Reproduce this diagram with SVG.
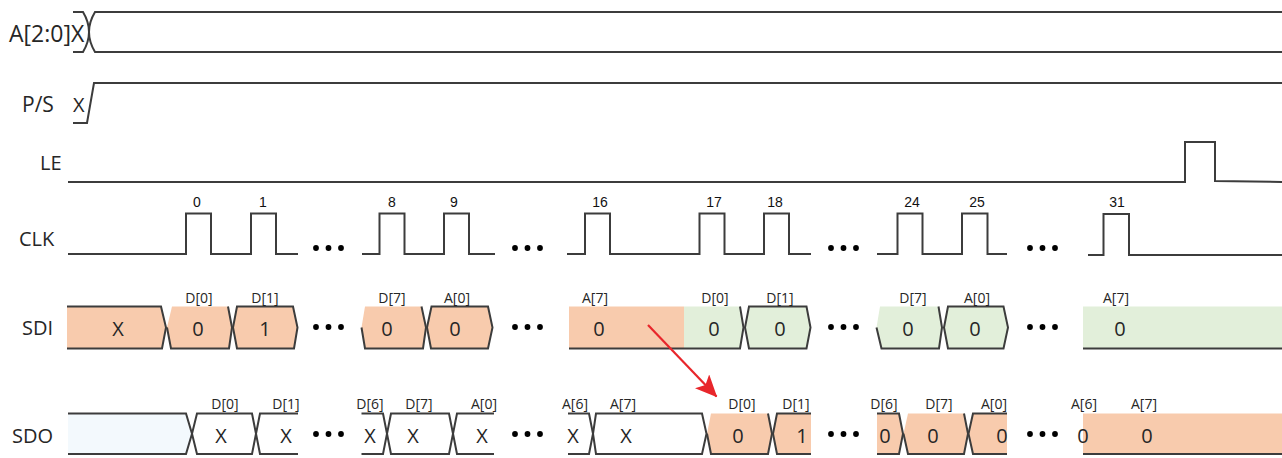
<svg xmlns="http://www.w3.org/2000/svg" width="1282" height="458" viewBox="0 0 1282 458">
  <style>
    .wave { fill: none; stroke: #3c3c3c; stroke-width: 2; stroke-linejoin: miter; }
    .sig { font-family: "Open Sans", "Liberation Sans", sans-serif; font-size: 20px; fill: #262626; }
    .val { font-family: "Open Sans", "Liberation Sans", sans-serif; font-size: 20px; fill: #262626; text-anchor: middle; }
    .bit { font-family: "Open Sans", "Liberation Sans", sans-serif; font-size: 14px; fill: #262626; text-anchor: middle; }
    .num { font-family: "Liberation Sans", Arial, sans-serif; font-size: 14px; fill: #111; text-anchor: middle; }
    .salmon { fill: #F8CBAD; stroke: none; }
    .green { fill: #E2EFDA; stroke: none; }
    .blue { fill: #F3F9FD; stroke: none; }
    .white { fill: #FFFFFF; stroke: none; }
    .dot { fill: #000; }
    .link { fill: none; stroke: #E8262B; stroke-width: 2.2; }
  </style>
  <defs>
    <marker id="arrowhead" viewBox="0 0 22 20" refX="21" refY="10" markerWidth="22" markerHeight="20" markerUnits="userSpaceOnUse" orient="auto">
      <path d="M0,0 L22,10 L0,20 L5,10 Z" fill="#E8262B"/>
    </marker>
    <g id="dots3">
      <circle class="dot" cx="0" cy="0" r="2.9"/>
      <circle class="dot" cx="12.5" cy="0" r="2.9"/>
      <circle class="dot" cx="25" cy="0" r="2.9"/>
    </g>
  </defs>

  <!-- A[2:0] bus -->
  <g id="sig-addr">
    <text class="sig" x="9" y="42" style="font-size:23px">A[2:0]X</text>
    <path class="wave" d="M73,12 H83 Q89,22 89,32 Q89,42 83,52 H73"/>
    <path class="wave" d="M1282,12 H95 Q89,22 89,32 Q89,42 95,52 H1282"/>
  </g>

  <!-- P/S -->
  <g id="sig-ps">
    <text class="sig" x="22" y="112" style="font-size:21px">P/S</text>
    <text class="sig" x="73" y="112">X</text>
    <path class="wave" d="M73,123 H87 L94,83 H1282"/>
  </g>

  <!-- LE -->
  <g id="sig-le">
    <text class="sig" x="40" y="170">LE</text>
    <path class="wave" d="M68,182 H1185 V142 H1215 V181 L1282,182"/>
  </g>

  <!-- CLK -->
  <g id="sig-clk">
    <text class="sig" x="19" y="246">CLK</text>
    <path class="wave" d="M68,254 H186 V213.5 H211 V254 H251 V213.5 H276 V254 H298"/>
    <path class="wave" d="M362,254 H379.5 V213.5 H404.5 V254 H444 V213.5 H469 V254 H495"/>
    <path class="wave" d="M567,254 H585 V213.5 H610 V254 H699.5 V213.5 H724.5 V254 H764 V213.5 H789 V254 H811"/>
    <path class="wave" d="M877,254 H897.5 V213.5 H922.5 V254 H962 V213.5 H987.5 V254 H1007"/>
    <path class="wave" d="M1088,255 H1103.5 V214 H1129 V255 H1282"/>
    <text class="num" x="197" y="206.5">0</text>
    <text class="num" x="263" y="206.5">1</text>
    <text class="num" x="392" y="206.5">8</text>
    <text class="num" x="454" y="206.5">9</text>
    <text class="num" x="600" y="206.5">16</text>
    <text class="num" x="714" y="206.5">17</text>
    <text class="num" x="775" y="206.5">18</text>
    <text class="num" x="912" y="206.5">24</text>
    <text class="num" x="977" y="206.5">25</text>
    <text class="num" x="1117" y="206.5">31</text>
    <use href="#dots3" x="316" y="248"/>
    <use href="#dots3" x="515" y="248"/>
    <use href="#dots3" x="831" y="248"/>
    <use href="#dots3" x="1030" y="248"/>
  </g>

  <!-- SDI -->
  <g id="sig-sdi">
    <text class="sig" x="22" y="335">SDI</text>
    <!-- fills -->
    <polygon class="salmon" points="67,306.5 161,306.5 166,327.5 162,348.5 67,348.5"/>
    <polygon class="salmon" points="172,306.5 228,306.5 232,327.5 229,348.5 171,348.5 167,327.5"/>
    <polygon class="salmon" points="237,306.5 293,306.5 297.5,327.5 294,348.5 237,348.5 233,327.5"/>
    <polygon class="salmon" points="365,306.5 421.5,306.5 426,327.5 423,348.5 365,348.5 361.5,327.5"/>
    <polygon class="salmon" points="431.5,306.5 488,306.5 492.5,327.5 488,348.5 431,348.5 427,327.5"/>
    <rect class="salmon" x="569" y="306.5" width="115" height="42"/>
    <polygon class="green" points="684,306.5 740,306.5 743.5,327.5 740,348.5 684,348.5"/>
    <polygon class="green" points="749,306.5 806.5,306.5 810.5,327.5 806.5,348.5 749,348.5 745,327.5"/>
    <polygon class="green" points="880,306.5 938.5,306.5 942,327.5 939,348.5 881.5,348.5 876.5,327.5"/>
    <polygon class="green" points="948,306.5 1003.5,306.5 1008,327.5 1003.5,348.5 948,348.5 944,327.5"/>
    <rect class="green" x="1083" y="306.5" width="199" height="42"/>
    <!-- outlines -->
    <path class="wave" d="M67,306.5 H161 L166,327.5 L162,348.5 H67"/>
    <path class="wave" d="M167,327.5 L171,348.5 H229 L232,327.5 L228,306.5"/>
    <path class="wave" d="M237,306.5 H293 L297.5,327.5 L294,348.5 H237 L233,327.5 Z"/>
    <path class="wave" d="M361.5,327.5 L365,348.5 H423 L426,327.5 L421.5,306.5"/>
    <path class="wave" d="M431.5,306.5 H488 L492.5,327.5 L488,348.5 H431 L427,327.5 Z"/>
    <path class="wave" d="M569,348.5 H740 L743.5,327.5 L740,306.5"/>
    <path class="wave" d="M749,306.5 H806.5 L810.5,327.5 L806.5,348.5 H749 L745,327.5 Z"/>
    <path class="wave" d="M876.5,327.5 L881.5,348.5 H939 L942,327.5 L938.5,306.5"/>
    <path class="wave" d="M948,306.5 H1003.5 L1008,327.5 L1003.5,348.5 H948 L944,327.5 Z"/>
    <path class="wave" d="M1083,348.5 H1282"/>
    <!-- values -->
    <text class="val" x="118" y="336">X</text>
    <text class="val" x="198" y="336">0</text>
    <text class="val" x="265" y="336">1</text>
    <text class="val" x="387" y="336">0</text>
    <text class="val" x="455" y="336">0</text>
    <text class="val" x="599" y="336">0</text>
    <text class="val" x="714" y="336">0</text>
    <text class="val" x="780" y="336">0</text>
    <text class="val" x="908" y="336">0</text>
    <text class="val" x="975" y="336">0</text>
    <text class="val" x="1120" y="336">0</text>
    <!-- bit names -->
    <text class="bit" x="199" y="303">D[0]</text>
    <text class="bit" x="265" y="303">D[1]</text>
    <text class="bit" x="392" y="303">D[7]</text>
    <text class="bit" x="457" y="303">A[0]</text>
    <text class="bit" x="595" y="303">A[7]</text>
    <text class="bit" x="715" y="303">D[0]</text>
    <text class="bit" x="780" y="303">D[1]</text>
    <text class="bit" x="913" y="303">D[7]</text>
    <text class="bit" x="977" y="303">A[0]</text>
    <text class="bit" x="1116" y="303">A[7]</text>
    <use href="#dots3" x="316" y="327"/>
    <use href="#dots3" x="515" y="327"/>
    <use href="#dots3" x="831" y="327"/>
    <use href="#dots3" x="1030" y="327"/>
  </g>

  <!-- SDO -->
  <g id="sig-sdo">
    <text class="sig" x="12" y="443">SDO</text>
    <!-- fills -->
    <polygon class="blue" points="68,413.5 186,413.5 192,433.75 186,454 68,454"/>
    <polygon class="white" points="197,413.5 252,413.5 256,433.75 252,454 197,454 192,433.75"/>
    <polygon class="salmon" points="711,413.5 768,413.5 772,433.75 768,454 711,454 707,433.75"/>
    <polygon class="salmon" points="777,413.5 811,413.5 811,454 777,454 773,433.75"/>
    <polygon class="salmon" points="877,413.5 899,413.5 903,433.75 899,454 877,454"/>
    <polygon class="salmon" points="908,413.5 964,413.5 968,433.75 964,454 908,454 903.5,433.75"/>
    <polygon class="salmon" points="973,413.5 1007,413.5 1007,454 973,454 968.5,433.75"/>
    <rect class="salmon" x="1083" y="413.5" width="199" height="40.5"/>
    <!-- outlines -->
    <path class="wave" d="M68,413.5 H186 L192,433.75 L186,454 H68"/>
    <path class="wave" d="M197,413.5 H252 L256,433.75 L252,454 H197 L192,433.75 Z"/>
    <path class="wave" d="M298,413.5 H260 L256,433.75 L260,454 H298"/>
    <path class="wave" d="M361.5,413.5 H383 L387,433.75 L383,454 H361.5"/>
    <path class="wave" d="M391,413.5 H449 L453,433.75 L449,454 H391 L387,433.75 Z"/>
    <path class="wave" d="M494,413.5 H457 L453,433.75 L457,454 H494"/>
    <path class="wave" d="M568,413.5 H589 L593,433.75 L589,454 H568"/>
    <path class="wave" d="M596,413.5 H702 L706.5,433.75 L702,454 H596 L593,433.75 Z"/>
    <path class="wave" d="M707,433.75 L711,454 H768 L772,433.75 L768,413.5"/>
    <path class="wave" d="M811,413.5 H777 L773,433.75 L777,454 H811"/>
    <path class="wave" d="M877,413.5 H899 L903,433.75 L899,454 H877"/>
    <path class="wave" d="M903.5,433.75 L908,454 H964 L968,433.75 L964,413.5"/>
    <path class="wave" d="M1007,413.5 H973 L968.5,433.75 L973,454 H1007"/>
    <path class="wave" d="M1083,454 H1282"/>
    <!-- values -->
    <text class="val" x="221" y="442.5">X</text>
    <text class="val" x="286" y="442.5">X</text>
    <text class="val" x="370" y="442.5">X</text>
    <text class="val" x="413" y="442.5">X</text>
    <text class="val" x="482" y="442.5">X</text>
    <text class="val" x="573" y="442.5">X</text>
    <text class="val" x="626" y="442.5">X</text>
    <text class="val" x="738" y="442.5">0</text>
    <text class="val" x="802" y="442.5">1</text>
    <text class="val" x="885" y="442.5">0</text>
    <text class="val" x="933" y="442.5">0</text>
    <text class="val" x="1002" y="442.5">0</text>
    <text class="val" x="1083" y="442.5">0</text>
    <text class="val" x="1147" y="442.5">0</text>
    <!-- bit names -->
    <text class="bit" x="225" y="409">D[0]</text>
    <text class="bit" x="286" y="409">D[1]</text>
    <text class="bit" x="370" y="409">D[6]</text>
    <text class="bit" x="419" y="409">D[7]</text>
    <text class="bit" x="484" y="409">A[0]</text>
    <text class="bit" x="575" y="409">A[6]</text>
    <text class="bit" x="623" y="409">A[7]</text>
    <text class="bit" x="742" y="409">D[0]</text>
    <text class="bit" x="796" y="409">D[1]</text>
    <text class="bit" x="884" y="409">D[6]</text>
    <text class="bit" x="939" y="409">D[7]</text>
    <text class="bit" x="994" y="409">A[0]</text>
    <text class="bit" x="1084" y="409">A[6]</text>
    <text class="bit" x="1144" y="409">A[7]</text>
    <use href="#dots3" x="316" y="434"/>
    <use href="#dots3" x="515" y="434"/>
    <use href="#dots3" x="831" y="434"/>
    <use href="#dots3" x="1030" y="434"/>
  </g>

  <!-- shift link: last SDI bit reappears on SDO -->
  <g id="connectors">
    <path class="link" d="M648,325 L716.5,396.5" marker-end="url(#arrowhead)"/>
  </g>
</svg>
